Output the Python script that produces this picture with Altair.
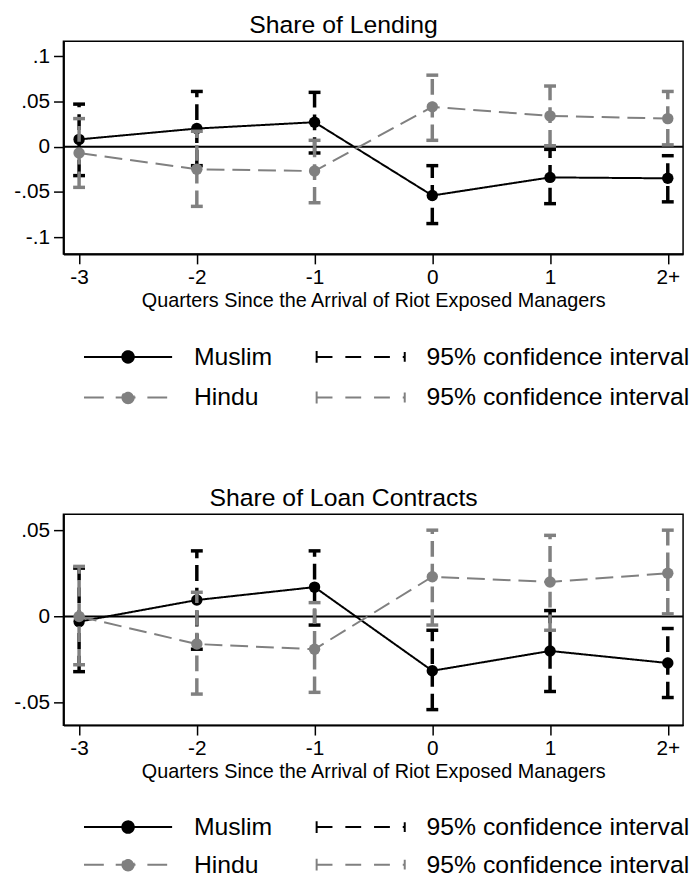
import altair as alt
import pandas as pd

# ---------------- data ----------------
quarters = [-3, -2, -1, 0, 1, 2]
quarter_labels = ["-3", "-2", "-1", "0", "1", "2+"]
x_title = "Quarters Since the Arrival of Riot Exposed Managers"

# Panel 1: Share of Lending
lend_muslim_est = [0.008, 0.020, 0.027, -0.054, -0.034, -0.035]
lend_muslim_lo = [-0.032, -0.021, -0.007, -0.085, -0.063, -0.061]
lend_muslim_hi = [0.047, 0.061, 0.060, -0.021, -0.003, -0.010]
lend_hindu_est = [-0.007, -0.025, -0.027, 0.044, 0.034, 0.031]
lend_hindu_lo = [-0.045, -0.066, -0.062, 0.007, 0.001, 0.002]
lend_hindu_hi = [0.031, 0.017, 0.007, 0.079, 0.067, 0.061]
lend_y_ticks = [-0.1, -0.05, 0, 0.05, 0.1]
lend_y_labels = ["-.1", "-.05", "0", ".05", ".1"]

# Panel 2: Share of Loan Contracts
loan_muslim_est = [-0.003, 0.0095, 0.017, -0.0315, -0.020, -0.027]
loan_muslim_lo = [-0.032, -0.019, -0.005, -0.054, -0.0435, -0.047]
loan_muslim_hi = [0.028, 0.038, 0.038, -0.008, 0.0034, -0.007]
loan_hindu_est = [0.000, -0.016, -0.019, 0.023, 0.020, 0.025]
loan_hindu_lo = [-0.028, -0.045, -0.044, -0.005, -0.008, 0.0015]
loan_hindu_hi = [0.029, 0.014, 0.008, 0.050, 0.047, 0.050]
loan_y_ticks = [-0.05, 0, 0.05]
loan_y_labels = ["-.05", "0", ".05"]

zero_line = [0]

legend_keys = ["Muslim", "Muslim CI", "Hindu", "Hindu CI"]
legend_labels = ["Muslim", "95% confidence interval", "Hindu", "95% confidence interval"]

# ---------------- styling ----------------
FONT = "Liberation Sans"
BLACK = "#000000"
GRAY = "#808080"
X_DOMAIN = [-3.133, 2.13]

# legend symbols (custom paths, scaled by sqrt(676)/2 = 13 px per unit)
W = 3.423
r = 0.446
circle_path = f"M-{r},0A{r},{r},0,1,0,{r},0A{r},{r},0,1,0,-{r},0Z"
series_symbol = f"M-{W},0L{W},0" + circle_path
ci_symbol = f"M-{W},-0.46L-{W},0.46M-{W},0L{W},0M{W},-0.38L{W},0.38"
legend_colors = [BLACK, BLACK, GRAY, GRAY]
legend_shapes = [series_symbol, ci_symbol, series_symbol, ci_symbol]
legend_dashes = [[1, 0], [16, 13], [20, 12], [16, 13]]


def map_expr(values, labels, numeric=True):
    parts = []
    for v, l in zip(values, labels):
        if numeric:
            parts.append(f"abs(datum.value - ({v})) < 1e-9 ? '{l}'")
        else:
            parts.append(f"datum.label == '{v}' ? '{l}'")
    return " : ".join(parts) + " : ''"


def make_df(m_est, m_lo, m_hi, h_est, h_lo, h_hi):
    rows = []
    for i, q in enumerate(quarters):
        rows.append(dict(x=q, series="Muslim", est=m_est[i], lo=m_lo[i], hi=m_hi[i]))
    for i, q in enumerate(quarters):
        rows.append(dict(x=q, series="Hindu", est=h_est[i], lo=h_lo[i], hi=h_hi[i]))
    return pd.DataFrame(rows)


def panel(df, title, ydom, yticks, ylabels, height, legend_y, row_pad):
    xenc = alt.X(
        "x:Q",
        scale=alt.Scale(domain=X_DOMAIN, nice=False, zero=False),
        axis=alt.Axis(values=quarters, labelExpr=map_expr(quarters, quarter_labels),
                      title=x_title, grid=False, labelPadding=3, titlePadding=3),
    )

    def Y(field):
        return alt.Y(
            f"{field}:Q",
            scale=alt.Scale(domain=ydom, nice=False, zero=False),
            axis=alt.Axis(values=yticks, labelExpr=map_expr(yticks, ylabels),
                          title=None, grid=False, labelPadding=4),
        )

    layers = [
        alt.Chart(pd.DataFrame({"y": zero_line}))
        .mark_rule(color=BLACK, strokeWidth=2)
        .encode(y=Y("y"))
    ]
    for s, color, dash in [("Muslim", BLACK, [1, 0]), ("Hindu", GRAY, [18, 8])]:
        base = alt.Chart(df).transform_filter(alt.datum.series == s)
        layers += [
            base.mark_line(color=color, strokeWidth=2, strokeDash=dash).encode(x=xenc, y=Y("est")),
            base.mark_circle(size=133, color=color, opacity=1).encode(x=xenc, y=Y("est")),
            base.mark_rule(color=color, strokeWidth=3.5, strokeDash=[16, 7]).encode(
                x=xenc, y=Y("lo"), y2="hi:Q"),
            base.mark_point(shape="stroke", size=144, strokeWidth=3.5, color=color,
                            opacity=1, filled=False).encode(x=xenc, y=Y("lo")),
            base.mark_point(shape="stroke", size=144, strokeWidth=3.5, color=color,
                            opacity=1, filled=False).encode(x=xenc, y=Y("hi")),
        ]

    leg = alt.Legend(
        title=None, orient="none", legendX=19.8, legendY=legend_y, columns=2,
        direction="horizontal",
        columnPadding=40, rowPadding=row_pad, padding=0,
        labelFont=FONT, labelFontSize=25, labelColor=BLACK, labelOffset=52.5, labelLimit=500,
        symbolSize=676, symbolOffset=31.5, symbolStrokeWidth=2,
        labelExpr=map_expr(legend_keys, legend_labels, numeric=False),
    )
    legend_layer = (
        alt.Chart(df)
        .transform_filter("false")
        .mark_point(filled=True, opacity=1, strokeWidth=2)
        .encode(
            fill=alt.Fill("series:N", scale=alt.Scale(domain=legend_keys, range=legend_colors), legend=leg),
            stroke=alt.Stroke("series:N", scale=alt.Scale(domain=legend_keys, range=legend_colors), legend=leg),
            shape=alt.Shape("series:N", scale=alt.Scale(domain=legend_keys, range=legend_shapes), legend=leg),
            strokeDash=alt.StrokeDash("series:N", scale=alt.Scale(domain=legend_keys, range=legend_dashes), legend=leg),
        )
    )
    layers.append(legend_layer)
    return alt.layer(*layers).properties(
        width=626, height=height,
        title=alt.TitleParams(title, fontSize=25, font=FONT, fontWeight="normal", color=BLACK,
                              offset=3, dx=-30),
    )


df_lend = make_df(lend_muslim_est, lend_muslim_lo, lend_muslim_hi,
                  lend_hindu_est, lend_hindu_lo, lend_hindu_hi)
df_loan = make_df(loan_muslim_est, loan_muslim_lo, loan_muslim_hi,
                  loan_hindu_est, loan_hindu_lo, loan_hindu_hi)

p1 = panel(df_lend, "Share of Lending", [-0.1186, 0.1166], lend_y_ticks, lend_y_labels, 215, 305, 14)
p2 = panel(df_loan, "Share of Loan Contracts", [-0.063, 0.0592], loan_y_ticks, loan_y_labels, 213, 302, 11)

chart = (
    alt.vconcat(p1, p2, spacing=75)
    .resolve_scale(fill="independent", stroke="independent", shape="independent", strokeDash="independent")
    .resolve_legend(fill="independent", stroke="independent", shape="independent", strokeDash="independent")
    .properties(padding={"left": 5, "top": 0, "right": 0, "bottom": 0})
    .configure_view(stroke=BLACK, strokeWidth=1.5)
    .configure_axis(
        labelFont=FONT, labelFontSize=21, labelColor=BLACK,
        titleFont=FONT, titleFontSize=20, titleFontWeight="normal", titleColor=BLACK,
        domainColor=BLACK, domainWidth=2, tickColor=BLACK, tickWidth=1.5, tickSize=10,
    )
)

chart.save("out.html", embed_options={"renderer": "svg", "actions": False})
